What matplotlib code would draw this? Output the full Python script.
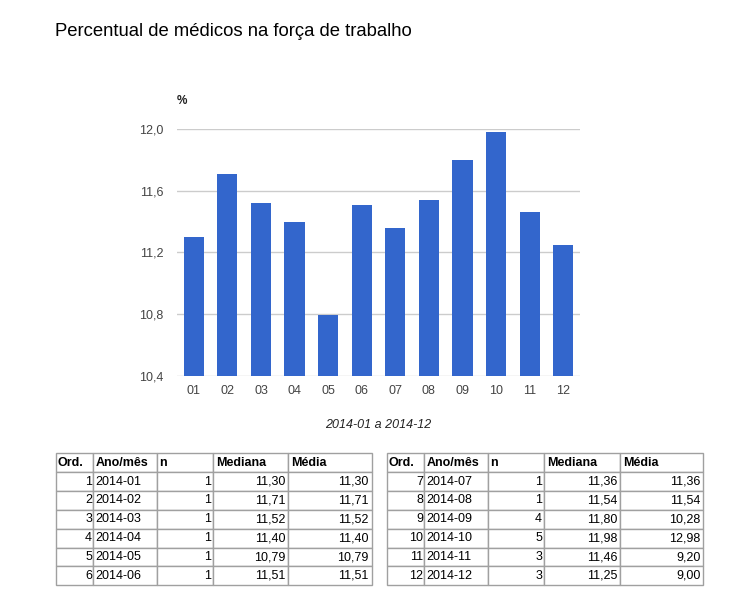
import matplotlib.pyplot as plt

plt.rcParams['font.family'] = ['Liberation Sans', 'DejaVu Sans']

# dados
meses = ['01', '02', '03', '04', '05', '06', '07', '08', '09', '10', '11', '12']
ano_mes = ['2014-01', '2014-02', '2014-03', '2014-04', '2014-05', '2014-06',
           '2014-07', '2014-08', '2014-09', '2014-10', '2014-11', '2014-12']
n_obs = [1, 1, 1, 1, 1, 1, 1, 1, 4, 5, 3, 3]
mediana = [11.30, 11.71, 11.52, 11.40, 10.79, 11.51, 11.36, 11.54, 11.80, 11.98, 11.46, 11.25]
media = [11.30, 11.71, 11.52, 11.40, 10.79, 11.51, 11.36, 11.54, 10.28, 12.98, 9.20, 9.00]
yticks = [10.4, 10.8, 11.2, 11.6, 12.0]
cabecalho = ['Ord.', 'Ano/mês', 'n', 'Mediana', 'Média']

W, H = 739, 599
fig = plt.figure(figsize=(W / 100, H / 100), dpi=100)

def px_axes(x0, y0, x1, y1):
    # retângulo em pixels (origem em cima à esquerda)
    return fig.add_axes([x0 / W, 1 - y1 / H, (x1 - x0) / W, (y1 - y0) / H])

fig.text(55 / W, 1 - 32 / H, 'Percentual de médicos na força de trabalho',
         fontsize=13.3, va='center', ha='left', color='#000000')

ax = px_axes(177, 129.3, 580, 375.5)
ax.bar(range(len(meses)), mediana, width=0.6, color='#3366cc', zorder=2)
ax.set_ylim(10.4, 12.0)
ax.set_xlim(-0.5, len(meses) - 0.5)
ax.set_yticks(yticks)
ax.set_yticklabels([f'{v:.1f}'.replace('.', ',') for v in yticks])
ax.set_xticks(range(len(meses)))
ax.set_xticklabels(meses)
ax.tick_params(length=0, labelsize=9, colors='#444444', pad=10)
ax.tick_params(axis='x', pad=7)
ax.grid(axis='y', color='#cccccc', linewidth=1, zorder=0)
for s in ax.spines.values():
    s.set_visible(False)
ax.text(0.0, 1.115, '%', transform=ax.transAxes, fontsize=8.5, fontweight='bold',
        ha='left', va='center', color='#222222')
ax.text(0.5, -0.2, '2014-01 a 2014-12', transform=ax.transAxes, fontsize=9,
        style='italic', ha='center', va='center', color='#222222')

def fmt(v):
    return f'{v:.2f}'.replace('.', ',')

def tabela(rect, widths, idx):
    tax = px_axes(*rect)
    tax.axis('off')
    linhas = [[str(i + 1), ano_mes[i], str(n_obs[i]), fmt(mediana[i]), fmt(media[i])] for i in idx]
    tot = sum(widths)
    t = tax.table(cellText=linhas, colLabels=cabecalho, colWidths=[w / tot for w in widths],
                  cellLoc='right', colLoc='left', bbox=[0, 0, 1, 1])
    t.auto_set_font_size(False)
    t.set_fontsize(9)
    for (r, c), cell in t.get_celld().items():
        cell.set_edgecolor('#a0a0a0')
        cell.set_linewidth(1)
        cell.PAD = 0.035
        if r == 0:
            cell.get_text().set_fontweight('bold')
        elif c == 1:
            cell._loc = 'left'
            cell.get_text().set_ha('left')
        cell.get_text().set_color('#000000')

tabela((55.7, 453.3, 371.7, 585.3), [37.6, 63.7, 56.3, 75, 83.4], range(0, 6))
tabela((387.3, 453.3, 703.3, 585.3), [37, 63.4, 56.3, 76, 83.3], range(6, 12))

fig.savefig('out.png', dpi=100)
